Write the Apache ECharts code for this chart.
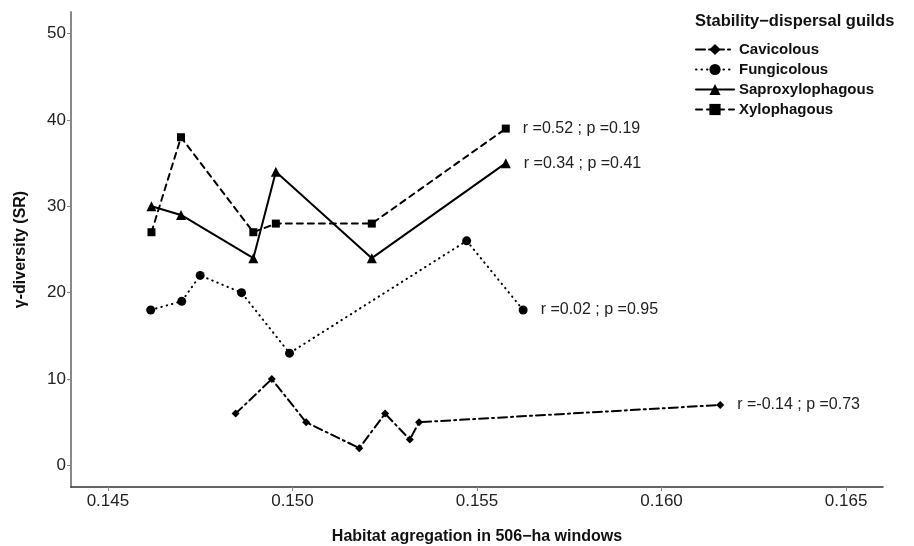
<!DOCTYPE html>
<html>
<head>
<meta charset="utf-8">
<script src="https://cdn.jsdelivr.net/npm/echarts@6/dist/echarts.min.js"></script>
<style>
  html, body { margin: 0; padding: 0; background: #fff; }
  #chart { width: 914px; height: 546px; }
</style>
</head>
<body>
<div id="chart"></div>
<script>
// habitat aggregation (x) and species richness (y) per guild
const xWood = [0.14618, 0.14698, 0.14894, 0.14955, 0.15215, 0.15578];
const xylophagous = [27, 38, 27, 28, 28, 39];
const saproxylophagous = [30, 29, 24, 34, 24, 35];

const xFungi = [0.14616, 0.14700, 0.14750, 0.14862, 0.14992, 0.15472, 0.15625];
const fungicolous = [18, 19, 22, 20, 13, 26, 18];

const xCavi = [0.14846, 0.14944, 0.15037, 0.15181, 0.15251, 0.15318, 0.15343, 0.16159];
const cavicolous = [6, 10, 5, 2, 6, 3, 5, 7];

const xTicks = [0.145, 0.150, 0.155, 0.160, 0.165];
const yTicks = [0, 10, 20, 30, 40, 50];

const stats = {
  Cavicolous: "r =-0.14 ; p =0.73",
  Fungicolous: "r =0.02 ; p =0.95",
  Saproxylophagous: "r =0.34 ; p =0.41",
  Xylophagous: "r =0.52 ; p =0.19"
};

const narrow = "'Liberation Sans', 'DejaVu Sans', sans-serif";
const bold = "'Liberation Sans', Arial, sans-serif";

// pairs x/y, last point gets the r ; p note
const makeData = (xs, ys, name) =>
  xs.map((x, i) => {
    const item = { value: [x, ys[i]] };
    if (i === xs.length - 1) {
      item.label = {
        show: true,
        position: "right",
        distance: 13,
        formatter: stats[name],
        color: "#222",
        fontFamily: narrow,
        fontSize: 16
      };
    }
    return item;
  });

const makeSeries = (name, xs, ys, symbol, size, lineType) => ({
  name,
  type: "line",
  data: makeData(xs, ys, name),
  symbol,
  symbolSize: size,
  showSymbol: true,
  itemStyle: { color: "#000" },
  lineStyle: { color: "#000", width: 2, type: lineType, cap: "round" },
  emphasis: { disabled: true },
  animation: false
});

const chart = echarts.init(document.getElementById("chart"));

chart.setOption({
  backgroundColor: "#fff",
  animation: false,
  title: {
    text: "Stability\u2212dispersal guilds",
    left: 690,
    top: 8,
    textStyle: { fontFamily: bold, fontSize: 16.5, fontWeight: "bold", color: "#111" }
  },
  legend: {
    orient: "vertical",
    left: 690,
    top: 37,
    itemWidth: 38,
    itemHeight: 14,
    itemGap: 5,
    textStyle: { fontFamily: bold, fontSize: 15, fontWeight: "bold", color: "#111" },
    data: ["Cavicolous", "Fungicolous", "Saproxylophagous", "Xylophagous"]
  },
  grid: { left: 71, right: 31, top: 12, bottom: 59, containLabel: false, outerBoundsMode: "none" },
  xAxis: {
    type: "value",
    min: 0.144,
    max: 0.166,
    name: "Habitat agregation in 506\u2212ha windows",
    nameLocation: "middle",
    nameGap: 42,
    nameTextStyle: { fontFamily: bold, fontSize: 16, fontWeight: "bold", color: "#111" },
    axisLine: { onZero: false, lineStyle: { color: "#333", width: 1.5 } },
    axisTick: { show: true, length: 4, customValues: xTicks, lineStyle: { color: "#888" } },
    axisLabel: {
      customValues: xTicks,
      formatter: (v) => v.toFixed(3),
      fontFamily: narrow,
      fontSize: 17,
      color: "#222",
      margin: 6
    },
    splitLine: { show: false }
  },
  yAxis: {
    type: "value",
    min: -2.5,
    max: 52.5,
    name: "\u03b3-diversity (SR)",
    nameLocation: "middle",
    nameGap: 42,
    nameRotate: 90,
    nameTextStyle: { fontFamily: bold, fontSize: 16, fontWeight: "bold", color: "#111" },
    axisLine: { show: true, onZero: false, lineStyle: { color: "#888", width: 2 } },
    axisTick: { show: true, length: 4, customValues: yTicks, lineStyle: { color: "#888" } },
    axisLabel: {
      customValues: yTicks,
      fontFamily: narrow,
      fontSize: 17,
      color: "#222",
      margin: 5
    },
    splitLine: { show: false }
  },
  series: [
    makeSeries("Cavicolous", xCavi, cavicolous, "diamond", 8, [9, 4, 2, 4]),
    makeSeries("Fungicolous", xFungi, fungicolous, "circle", 9, [0.5, 5]),
    makeSeries("Saproxylophagous", xWood, saproxylophagous, "triangle", 10, "solid"),
    makeSeries("Xylophagous", xWood, xylophagous, "rect", 8, [6, 5])
  ]
});
</script>
</body>
</html>
